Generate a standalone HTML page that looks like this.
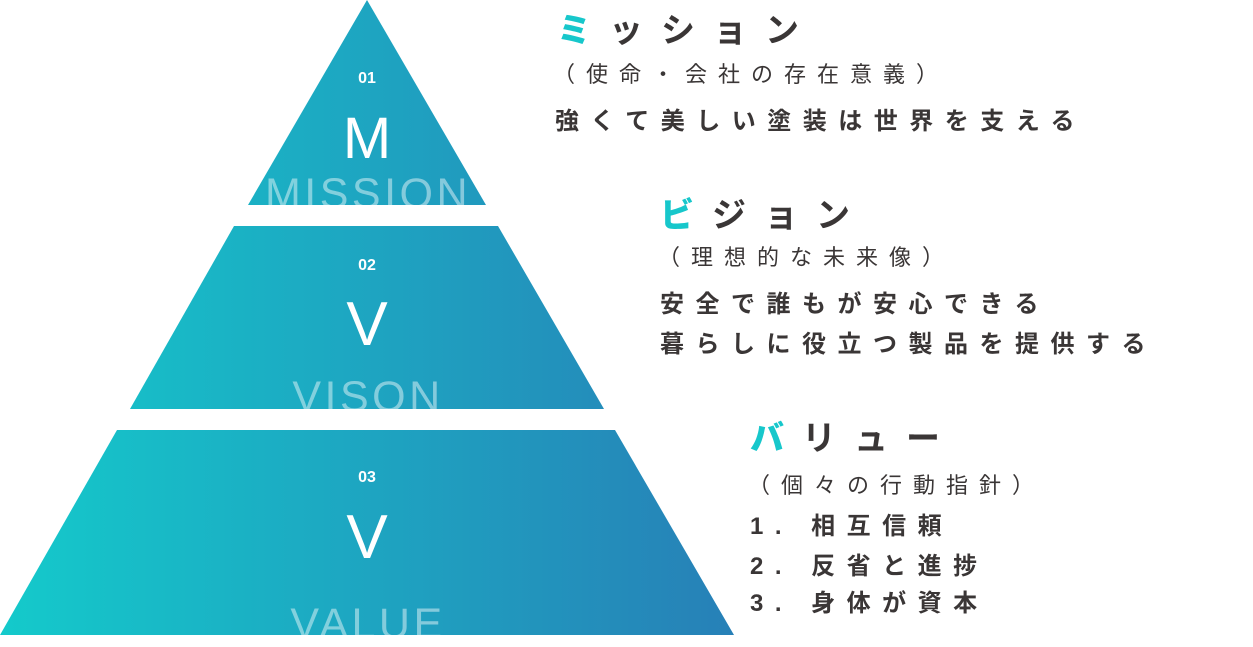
<!DOCTYPE html>
<html><head><meta charset="utf-8"><style>
html,body{margin:0;padding:0;background:#fff;width:1253px;height:647px;overflow:hidden}
.t{position:absolute;white-space:nowrap;color:#3a3636;font-family:"Liberation Sans","Noto Sans CJK JP",sans-serif;line-height:1}
.h{font-size:34px;font-weight:bold;letter-spacing:18px}
.h b{color:#17c7cb}
.s{font-size:22px;letter-spacing:11px}
.b{font-size:24px;font-weight:bold;letter-spacing:11.5px}
</style></head><body>
<svg width="734" height="647" style="position:absolute;left:0;top:0" xmlns="http://www.w3.org/2000/svg">
<defs>
<linearGradient id="g" gradientUnits="userSpaceOnUse" x1="0" y1="0" x2="734" y2="0">
<stop offset="0" stop-color="#14cacb"/><stop offset="1" stop-color="#2780b7"/></linearGradient>
<clipPath id="c1"><polygon points="367,0 486,205 248,205"/></clipPath>
<clipPath id="c2"><polygon points="234,226 498,226 604,409 130,409"/></clipPath>
<clipPath id="c3"><polygon points="117,430 615,430 734,635 0,635"/></clipPath>
</defs>
<polygon points="367,0 486,205 248,205" fill="url(#g)"/>
<polygon points="234,226 498,226 604,409 130,409" fill="url(#g)"/>
<polygon points="117,430 615,430 734,635 0,635" fill="url(#g)"/>
<g font-family="Liberation Sans, sans-serif" fill="#fff" text-anchor="middle">
<text x="367" y="83" font-size="16" font-weight="bold">01</text>
<text x="367" y="158" font-size="58">M</text>
<text x="367" y="270" font-size="16" font-weight="bold">02</text>
<text x="367" y="345" font-size="62">V</text>
<text x="367" y="482" font-size="16" font-weight="bold">03</text>
<text x="367" y="558" font-size="62">V</text>
<g fill="#fff" fill-opacity="0.45" font-size="43" letter-spacing="3.5">
<text x="368" y="208" clip-path="url(#c1)">MISSION</text>
<text x="368" y="411" clip-path="url(#c2)">VISON</text>
<text x="368" y="638" clip-path="url(#c3)">VALUE</text>
</g></g></svg>
<div class="t h" style="left:557px;top:14px"><b>ミ</b>ッション</div>
<div class="t s" style="left:553px;top:64px">（使命・会社の存在意義）</div>
<div class="t b" style="left:555px;top:110px">強くて美しい塗装は世界を支える</div>
<div class="t h" style="left:660px;top:199px"><b>ビ</b>ジョン</div>
<div class="t s" style="left:658px;top:247px">（理想的な未来像）</div>
<div class="t b" style="left:660px;top:293px">安全で誰もが安心できる</div>
<div class="t b" style="left:660px;top:333px">暮らしに役立つ製品を提供する</div>
<div class="t h" style="left:750px;top:422px"><b>バ</b>リュー</div>
<div class="t s" style="left:748px;top:475px">（個々の行動指針）</div>
<div class="t b" style="left:750px;top:515px">1. 相互信頼</div>
<div class="t b" style="left:750px;top:555px">2. 反省と進捗</div>
<div class="t b" style="left:750px;top:592px">3. 身体が資本</div>
</body></html>
